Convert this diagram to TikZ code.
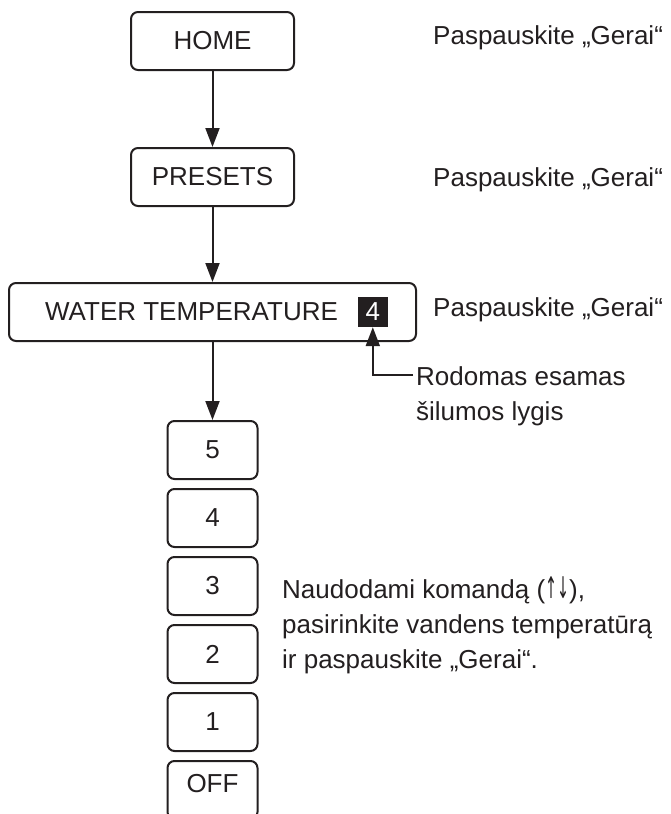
\documentclass[tikz,border=0pt]{standalone}
\usepackage{fontspec}
\usepackage{graphicx}
\setmainfont{Liberation Sans}
\newfontfamily\arrowfont{DejaVu Sans}
\usetikzlibrary{arrows.meta,positioning}
\definecolor{ink}{HTML}{231F20}
\tikzset{
  menu/.style={
    draw=ink,
    line width=2pt,
    rounded corners=7pt,
    minimum height=58pt,
    inner sep=0pt,
    text=ink,
    font=\fontsize{26}{32}\selectfont
  },
  wide/.style={menu, minimum width=163pt},
  level/.style={menu, minimum width=90pt},
  badge/.style={
    fill=ink,
    text=white,
    minimum size=30pt,
    inner sep=0pt,
    font=\fontsize{26}{32}\selectfont
  },
  hint/.style={
    align=left,
    inner sep=0pt,
    text=ink,
    font=\fontsize{26}{35}\selectfont
  },
  flow/.style={-{Triangle[length=19pt,width=14pt]}, line width=2pt, draw=ink}
}
\newcommand{\updown}{{\arrowfont\scalebox{0.55}[1.15]{↑}\scalebox{0.55}[1.15]{↓}}}

\begin{document}
\begin{tikzpicture}[node distance=8pt]
  \useasboundingbox (0,0) rectangle (670pt,-814pt);

  \node[wide] (home) at (212.5pt,-41pt) {HOME};
  \node[wide, below=76pt of home] (presets) {PRESETS};
  \node[menu, minimum width=407pt, below=75pt of presets] (water) {WATER TEMPERATURE\hspace*{42pt}};
  \node[badge, left=29pt of water.east] (badge) {4};

  \node[level, below=78pt of water] (l5) {5};
  \node[level, below=of l5] (l4) {4};
  \node[level, below=of l4] (l3) {3};
  \node[level, below=of l3] (l2) {2};
  \node[level, below=of l2] (l1) {1};
  \node[level, text depth=14pt, below=of l1] (off) {OFF};

  \node[hint, anchor=base west] (h1) at (433pt,-44pt) {Paspauskite „Gerai“};
  \node[hint, anchor=base west] (h2) at (433pt,-186pt) {Paspauskite „Gerai“};
  \node[hint, anchor=base west] (h3) at (433pt,-316pt) {Paspauskite „Gerai“};
  \node[hint, anchor=north west] (note) at (416pt,-366pt) {Rodomas esamas\\šilumos lygis};
  \node[hint, anchor=north west] (pick) at (282pt,-576pt) {Naudodami komandą (\updown),\\pasirinkite vandens temperatūrą\\ir paspauskite „Gerai“.};

  \coordinate (lead) at (413pt,-375pt);

  \draw[flow] (home) -- (presets);
  \draw[flow] (presets) -- (water);
  \draw[flow] (water) -- (l5);
  \draw[flow] (lead) -| (badge.south);
\end{tikzpicture}
\end{document}
